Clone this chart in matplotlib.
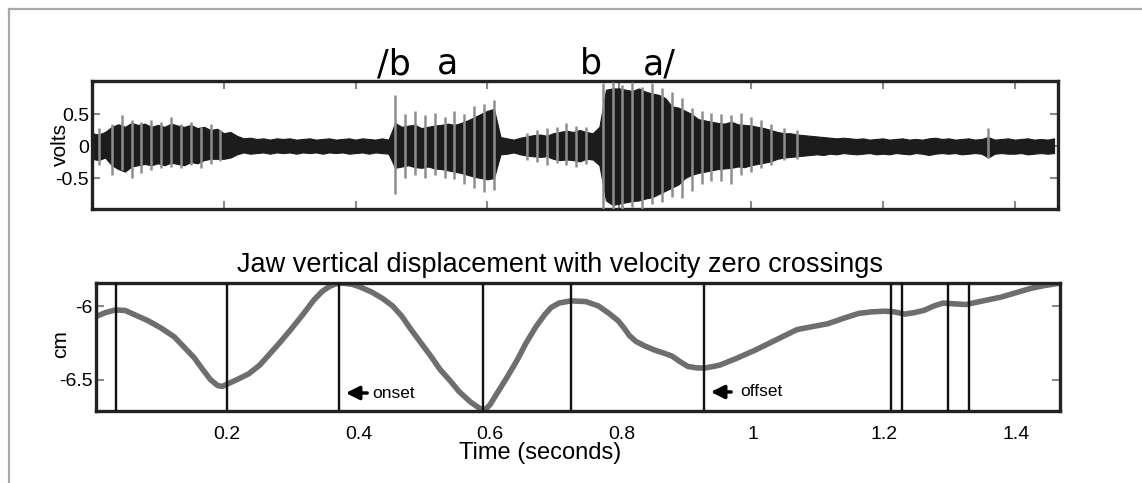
import numpy as np
import matplotlib
matplotlib.use('Agg')
import matplotlib.pyplot as plt
from matplotlib.lines import Line2D

plt.rcParams['font.family'] = ['Liberation Sans', 'DejaVu Sans']

# --- top panel: acoustic signal envelope, sampled every 0.01 s (volts) ---
sig_t = np.round(np.arange(0, 147) * 0.01, 2)
body_hi = [0.20, 0.18, 0.22, 0.30, 0.34, 0.30, 0.36, 0.33, 0.35, 0.30,
           0.33, 0.30, 0.35, 0.32, 0.30, 0.33, 0.28, 0.30, 0.25, 0.27,
           0.20, 0.22, 0.16, 0.12, 0.13, 0.11, 0.12, 0.10, 0.12, 0.11,
           0.12, 0.10, 0.11, 0.12, 0.10, 0.11, 0.12, 0.10, 0.11, 0.12,
           0.10, 0.12, 0.11, 0.10, 0.12, 0.10, 0.36, 0.30, 0.32, 0.33,
           0.28, 0.30, 0.32, 0.33, 0.35, 0.33, 0.36, 0.40, 0.45, 0.50,
           0.55, 0.58, 0.14, 0.12, 0.10, 0.13, 0.15, 0.17, 0.18, 0.16,
           0.20, 0.22, 0.24, 0.22, 0.25, 0.22, 0.20, 0.30, 0.88, 0.90,
           0.90, 0.88, 0.86, 0.90, 0.85, 0.82, 0.80, 0.75, 0.62, 0.60,
           0.55, 0.50, 0.42, 0.40, 0.38, 0.36, 0.35, 0.38, 0.34, 0.33,
           0.32, 0.30, 0.28, 0.25, 0.22, 0.20, 0.20, 0.18, 0.17, 0.16,
           0.15, 0.14, 0.13, 0.12, 0.13, 0.12, 0.11, 0.12, 0.10, 0.11,
           0.12, 0.10, 0.11, 0.12, 0.10, 0.11, 0.10, 0.12, 0.13, 0.11,
           0.12, 0.10, 0.11, 0.12, 0.10, 0.11, 0.14, 0.10, 0.11, 0.12,
           0.10, 0.11, 0.12, 0.10, 0.11, 0.10, 0.12]
body_lo = [-0.20, -0.22, -0.18, -0.30, -0.36, -0.40, -0.32, -0.30, -0.28, -0.30,
           -0.27, -0.30, -0.26, -0.28, -0.30, -0.25, -0.27, -0.22, -0.20, -0.20,
           -0.20, -0.18, -0.13, -0.10, -0.12, -0.11, -0.10, -0.12, -0.10, -0.11,
           -0.10, -0.12, -0.10, -0.11, -0.10, -0.12, -0.10, -0.11, -0.10, -0.12,
           -0.11, -0.10, -0.12, -0.10, -0.11, -0.12, -0.34, -0.32, -0.30, -0.33,
           -0.34, -0.32, -0.35, -0.36, -0.38, -0.40, -0.42, -0.45, -0.48, -0.50,
           -0.52, -0.50, -0.13, -0.12, -0.10, -0.13, -0.15, -0.16, -0.17, -0.16,
           -0.20, -0.22, -0.21, -0.22, -0.24, -0.20, -0.21, -0.30, -0.85, -0.92,
           -0.90, -0.88, -0.86, -0.85, -0.82, -0.80, -0.75, -0.70, -0.65, -0.60,
           -0.50, -0.45, -0.42, -0.40, -0.38, -0.36, -0.35, -0.34, -0.32, -0.33,
           -0.30, -0.28, -0.26, -0.24, -0.20, -0.18, -0.17, -0.16, -0.15, -0.14,
           -0.13, -0.14, -0.12, -0.13, -0.11, -0.12, -0.13, -0.12, -0.11, -0.13,
           -0.12, -0.13, -0.11, -0.12, -0.13, -0.11, -0.12, -0.14, -0.12, -0.11,
           -0.12, -0.11, -0.13, -0.12, -0.11, -0.12, -0.18, -0.12, -0.11, -0.12,
           -0.12, -0.11, -0.13, -0.12, -0.11, -0.12, -0.11]

# gray pitch-pulse spikes (time, top, bottom)
spike_t = [0.01, 0.03, 0.045, 0.06, 0.075, 0.09, 0.105, 0.12, 0.135, 0.15, 0.165, 0.18, 0.195,
           0.46, 0.475, 0.49, 0.505, 0.52, 0.535, 0.55, 0.565, 0.58, 0.595, 0.61,
           0.66, 0.675, 0.69, 0.705, 0.72, 0.735, 0.75,
           0.775, 0.79, 0.805, 0.82, 0.835, 0.85, 0.865, 0.88, 0.895, 0.91,
           0.925, 0.94, 0.955, 0.97, 0.985, 1.0, 1.015, 1.03, 1.05, 1.07, 1.36]
spike_hi = [0.28, 0.35, 0.49, 0.40, 0.38, 0.41, 0.38, 0.46, 0.35, 0.38, 0.30, 0.34, 0.25,
            0.80, 0.50, 0.54, 0.48, 0.52, 0.45, 0.55, 0.50, 0.62, 0.65, 0.72,
            0.20, 0.25, 0.28, 0.30, 0.36, 0.32, 0.30,
            0.98, 1.00, 0.95, 1.00, 0.92, 0.98, 0.90, 0.85, 0.75, 0.60,
            0.55, 0.52, 0.50, 0.48, 0.52, 0.45, 0.40, 0.35, 0.28, 0.25, 0.28]
spike_lo = [-0.29, -0.45, -0.38, -0.50, -0.42, -0.38, -0.35, -0.33, -0.34, -0.30, -0.34, -0.28, -0.24,
            -0.75, -0.50, -0.45, -0.50, -0.46, -0.50, -0.52, -0.60, -0.65, -0.72, -0.68,
            -0.22, -0.25, -0.29, -0.27, -0.30, -0.32, -0.28,
            -0.98, -0.98, -0.98, -0.95, -0.98, -0.90, -0.88, -0.80, -0.81, -0.70,
            -0.60, -0.55, -0.55, -0.60, -0.45, -0.40, -0.34, -0.30, -0.22, -0.20, -0.19]

# --- bottom panel: jaw displacement (cm) and velocity zero crossings (s) ---
jaw_t = [0.0, 0.015, 0.030, 0.045, 0.06, 0.08, 0.100, 0.12, 0.135, 0.15, 0.163, 0.175,
         0.186, 0.193, 0.200, 0.215, 0.233, 0.25, 0.262, 0.28, 0.297, 0.315, 0.332,
         0.345, 0.355, 0.365, 0.375, 0.39, 0.402, 0.42, 0.437, 0.452, 0.466, 0.48,
         0.495, 0.51, 0.524, 0.54, 0.553, 0.57, 0.583, 0.591, 0.60, 0.611, 0.625,
         0.641, 0.655, 0.670, 0.683, 0.693, 0.705, 0.723, 0.746, 0.765, 0.781, 0.795,
         0.804, 0.812, 0.822, 0.835, 0.851, 0.865, 0.877, 0.89, 0.901, 0.915, 0.927,
         0.94, 0.950, 0.975, 1.003, 1.035, 1.067, 1.09, 1.114, 1.14, 1.161, 1.18,
         1.201, 1.215, 1.231, 1.245, 1.260, 1.275, 1.289, 1.305, 1.324, 1.35, 1.377,
         1.40, 1.423, 1.445, 1.467]
jaw_cm = [-6.073, -6.045, -6.027, -6.03, -6.06, -6.10, -6.15, -6.21, -6.28, -6.35, -6.43, -6.50,
          -6.54, -6.545, -6.53, -6.50, -6.46, -6.40, -6.34, -6.25, -6.16, -6.06, -5.96,
          -5.90, -5.87, -5.85, -5.845, -5.852, -5.87, -5.905, -5.95, -6.00, -6.07, -6.16,
          -6.25, -6.34, -6.43, -6.51, -6.58, -6.65, -6.69, -6.71, -6.67, -6.59, -6.49,
          -6.37, -6.25, -6.14, -6.06, -6.01, -5.98, -5.965, -5.97, -6.00, -6.05, -6.10,
          -6.15, -6.20, -6.24, -6.27, -6.30, -6.32, -6.34, -6.38, -6.41, -6.42, -6.42,
          -6.41, -6.40, -6.355, -6.30, -6.23, -6.16, -6.14, -6.12, -6.08, -6.05, -6.04,
          -6.035, -6.04, -6.055, -6.045, -6.03, -6.00, -5.98, -5.985, -5.99, -5.965, -5.94,
          -5.91, -5.88, -5.86, -5.845]
zero_cross = [0.031, 0.200, 0.370, 0.590, 0.723, 0.925, 1.210, 1.227, 1.296, 1.329]

fig = plt.figure(figsize=(11.42, 4.83), dpi=100)

# outer gray frame (left and top edges visible)
fig.add_artist(Line2D([8.5/1142, 8.5/1142], [0, 1 - 9/483], transform=fig.transFigure,
                      color='#a8a8a8', lw=1.6))
fig.add_artist(Line2D([8.5/1142, 1], [1 - 9/483, 1 - 9/483], transform=fig.transFigure,
                      color='#a8a8a8', lw=1.6))

# top panel
ax1 = fig.add_axes([92/1142, 1 - 209/483, 966/1142, 128/483])
ax1.fill_between(sig_t, body_lo, body_hi, color='#1c1c1c', lw=0.8, zorder=2)
ax1.vlines(spike_t, spike_lo, spike_hi, color='#8e8e8e', lw=1.8, zorder=3)
ax1.set_xlim(0, 1.466)
ax1.set_ylim(-0.984, 1.016)
ax1.set_xticks([0.2, 0.4, 0.6, 0.8, 1.0, 1.2, 1.4])
ax1.set_xticklabels([])
ax1.set_yticks([-0.5, 0, 0.5])
ax1.set_yticklabels(['-0.5', '0', '0.5'])
ax1.tick_params(direction='in', top=True, right=True, length=6, width=1.5,
                color='#8a8a8a', labelsize=14, pad=2)
ax1.set_ylabel('volts', fontsize=15, labelpad=0)
ax1.yaxis.set_label_coords(-22/966, 0.5)
for s in ax1.spines.values():
    s.set_linewidth(2.4)
    s.set_color('#222222')

# bottom panel
ax2 = fig.add_axes([95.5/1142, 1 - 411/483, 964.5/1142, 128/483])
ax2.plot(jaw_t, jaw_cm, color='#6e6e6e', lw=4.0, solid_capstyle='round',
         solid_joinstyle='round', zorder=2)
for zc in zero_cross:
    ax2.axvline(zc, color='#111111', lw=1.7, zorder=3)
ax2.set_xlim(0, 1.467)
ax2.set_ylim(-6.712, -5.844)
ax2.set_xticks([0.2, 0.4, 0.6, 0.8, 1.0, 1.2, 1.4])
ax2.set_xticklabels(['0.2', '0.4', '0.6', '0.8', '1', '1.2', '1.4'])
ax2.set_yticks([-6.5, -6])
ax2.set_yticklabels(['-6.5', '-6'])
ax2.tick_params(axis='x', length=0, labelsize=14, pad=11)
ax2.tick_params(axis='y', direction='in', right=True, length=6, width=1.5,
                color='#8a8a8a', labelsize=14, pad=2)
ax2.set_ylabel('cm', fontsize=15, labelpad=0)
ax2.yaxis.set_label_coords(-25/964.5, 0.52)
for s in ax2.spines.values():
    s.set_linewidth(2.4)
    s.set_color('#222222')

ax2.annotate('', xy=(0.3764, -6.59), xytext=(0.4175, -6.59),
             arrowprops=dict(arrowstyle='-|>', color='black', lw=2.5, mutation_scale=20))
ax2.text(0.4206, -6.59, 'onset', fontsize=12.5, va='center', ha='left')
ax2.annotate('', xy=(0.9316, -6.583), xytext=(0.971, -6.583),
             arrowprops=dict(arrowstyle='-|>', color='black', lw=2.5, mutation_scale=20))
ax2.text(0.980, -6.583, 'offset', fontsize=12.5, va='center', ha='left')

# titles and phonetic labels
fig.text(560/1142, 1 - 272/483, 'Jaw vertical displacement with velocity zero crossings',
         fontsize=19.5, ha='center', va='baseline')
fig.text(540/1142, 1 - 459/483, 'Time (seconds)', fontsize=17, ha='center', va='baseline')

phon = ['/b', 'a', 'b', 'a/']
phon_x = [377, 437, 580, 643]
for lab, px in zip(phon, phon_x):
    fig.text(px/1142, 1 - 74/483, lab, fontsize=25, ha='left', va='baseline',
             family=['DejaVu Sans'])

fig.savefig('out.png', dpi=100)
